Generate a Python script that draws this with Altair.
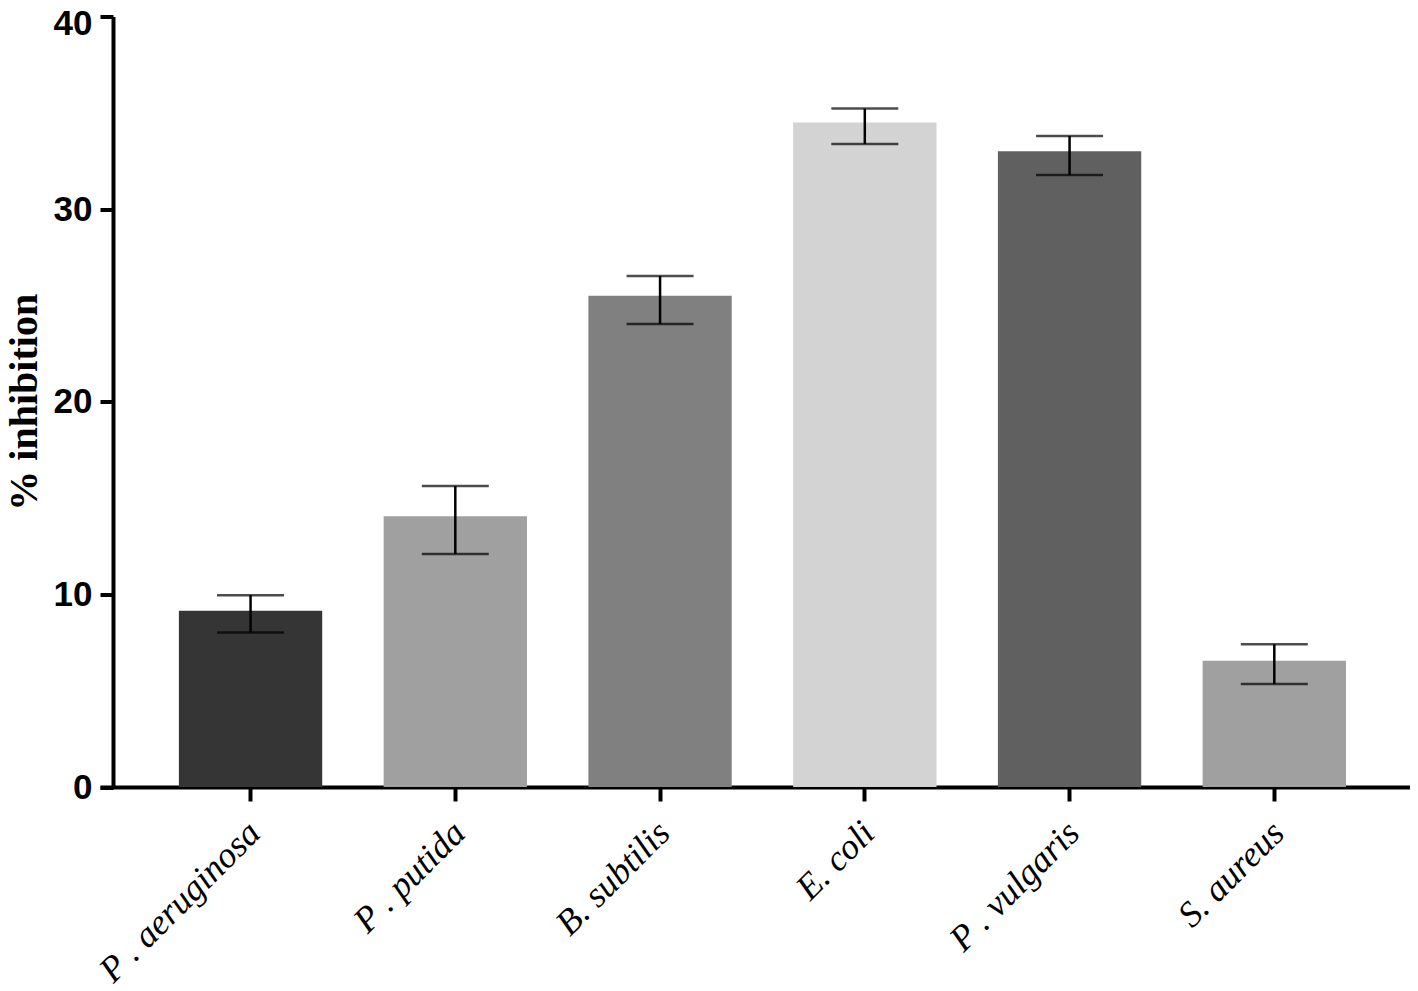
import altair as alt
import pandas as pd

categories = ["P . aeruginosa", "P . putida", "B. subtilis", "E. coli", "P . vulgaris", "S. aureus"]
means = [9.15, 14.06, 25.5, 34.5, 33.0, 6.56]
upper = [9.96, 15.62, 26.53, 35.22, 33.8, 7.41]
lower = [8.02, 12.09, 24.04, 33.38, 31.77, 5.35]
colors = ["#353535", "#a0a0a0", "#808080", "#d3d3d3", "#606060", "#a0a0a0"]
y_ticks = [0, 10, 20, 30, 40]

df = pd.DataFrame({
    "strain": categories,
    "mean": means,
    "upper": upper,
    "lower": lower,
    "color": colors,
})

x_enc = alt.X(
    "strain:N",
    sort=categories,
    scale=alt.Scale(paddingInner=0.3, paddingOuter=0.349, align=0.552),
    axis=alt.Axis(
        title=None,
        labelAngle=-45,
        labelFont="Liberation Serif",
        labelFontStyle="italic",
        labelFontWeight="normal",
        labelFontSize=36,
        labelColor="#000000",
        labelPadding=14,
        labelOffset=-8,
        labelLimit=0,
        tickSize=14,
        tickWidth=4,
        tickColor="#000000",
        domainWidth=4,
        domainColor="#000000",
        grid=False,
    ),
)

y_scale = alt.Scale(domain=[0, 40], nice=False, zero=True)

base = alt.Chart(df)

bars = base.mark_bar(strokeWidth=0).encode(
    x=x_enc,
    y=alt.Y(
        "mean:Q",
        scale=y_scale,
        axis=alt.Axis(
            title="% inhibition",
            titleFont="Liberation Serif",
            titleFontWeight="bold",
            titleFontSize=40,
            titleColor="#000000",
            titlePadding=9,
            values=y_ticks,
            labelFont="Liberation Sans",
            labelFontWeight="bold",
            labelFontSize=35,
            labelColor="#000000",
            labelPadding=8,
            labelOffset={"condition": {"test": "datum.value == 40", "value": 7}, "value": 0},
            tickSize=13,
            tickWidth=4,
            tickColor="#000000",
            domainWidth=4,
            domainColor="#000000",
            offset=-13,
            grid=False,
        ),
    ),
    color=alt.Color("color:N", scale=None),
)

rule = base.mark_rule(color="#000000", strokeWidth=2.5).encode(
    x=alt.X("strain:N", sort=categories),
    y=alt.Y("upper:Q", scale=y_scale),
    y2="lower:Q",
)

cap_hi = base.mark_tick(color="#000000", size=67, thickness=2.5, orient="horizontal").encode(
    x=alt.X("strain:N", sort=categories),
    y=alt.Y("upper:Q", scale=y_scale),
)

cap_lo = base.mark_tick(color="#000000", size=67, thickness=2.5, orient="horizontal").encode(
    x=alt.X("strain:N", sort=categories),
    y=alt.Y("lower:Q", scale=y_scale),
)

chart = alt.layer(bars, rule, cap_hi, cap_lo).properties(
    width=1310,
    height=770.5,
    autosize=alt.AutoSizeParams(type="none"),
    padding={"left": 92, "top": 8.5, "right": 0, "bottom": 197},
    background="#ffffff",
).configure_view(stroke=None)

chart.save("out.html", embed_options={"renderer": "svg", "actions": False})
